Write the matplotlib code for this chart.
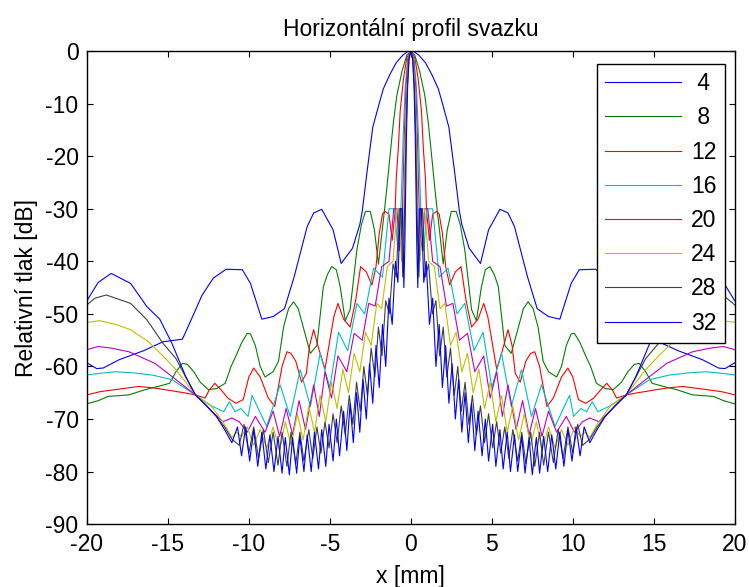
import numpy as np
import matplotlib ; matplotlib.use('Agg')
from matplotlib import pyplot as plt

plt.rcParams['font.family'] = ['Liberation Sans', 'DejaVu Sans']
plt.rcParams['axes.unicode_minus'] = False

# half profiles (x >= 0), the beam is symmetric so the x < 0 side is mirrored
x4 = [0, 0.2, 0.5, 0.9, 1.3, 1.7, 2.0, 2.35, 2.7, 3.0, 3.15, 3.6, 4.3, 4.8, 5.5, 6.0, 6.4, 7.2,
      7.8, 8.5, 9.2, 9.9, 10.4, 11.4, 12.2, 12.9, 13.4, 14.1, 15.3, 16.5, 18.0, 19.0, 19.4,
      20.0]
db4 = [0, -0.1, -0.8, -2.2, -4.5, -7.2, -10.5, -14.5, -22.9, -30.5, -33, -37.5, -40.4, -34,
       -30.1, -30.8, -33.4, -42.9, -49, -50.5, -51, -44.2, -41.6, -41.5, -43.2, -46.5, -50,
       -54.8, -55.3, -57, -58.7, -60.3, -60.4, -59.3]

x8 = [0, 0.25, 0.55, 0.86, 1.07, 1.28, 1.48, 1.6, 1.8, 2.0, 2.25, 2.5, 2.8, 3.05, 3.33, 3.75,
      4.05, 4.35, 4.6, 4.88, 5.15, 5.4, 5.8, 6.2, 6.6, 6.95, 7.24, 7.55, 7.85, 8.17, 8.5, 9.0,
      9.3, 9.6, 9.9, 10.1, 10.45, 10.8, 11.1, 11.46, 12.0, 12.5, 13.0, 13.4, 13.8, 14.1, 14.5,
      14.9, 15.6, 16.4, 17.4, 18.7, 19.3, 20.0]
db8 = [0, -0.8, -3.9, -8.4, -13.4, -19.8, -26, -29.5, -35, -40.5, -34, -30.5, -30.5, -33,
       -37.8, -49.2, -51.3, -45, -41.6, -41, -42.5, -44.8, -56, -57.5, -53, -49, -47.7, -49,
       -52.4, -59, -61, -62, -60, -56, -53.8, -53.7, -55.5, -58, -60, -63.2, -64.2, -64.4, -63,
       -61, -59.6, -59.4, -61, -63.2, -63.8, -64.4, -65.4, -65.7, -66.5, -67.1]

x12 = [0, 0.25, 0.45, 0.66, 0.76, 0.9, 0.97, 1.15, 1.35, 1.6, 1.75, 1.95, 2.15, 2.4, 2.75,
       3.1, 3.4, 3.75, 4.15, 4.5, 4.75, 5.0, 5.3, 5.65, 6.0, 6.25, 6.45, 6.75, 7.1, 7.4, 7.65,
       7.95, 8.4, 8.8, 9.3, 9.7, 10.0, 10.35, 10.8, 11.3, 11.7, 12.1, 12.45, 12.7, 13.3, 14.0,
       15.0, 15.8, 16.8, 18.25, 19.2, 20.0]
db12 = [0, -1.3, -5.2, -11.5, -17.9, -24.2, -30.5, -36, -31, -30.5, -31, -34.7, -41, -44.5,
        -42, -41, -47.3, -52.5, -51, -48, -50.5, -55, -60.5, -57, -53, -56, -61.3, -63, -59,
        -57.5, -57.2, -60, -67.6, -66, -62, -60.3, -62, -66.3, -67, -66, -64.5, -63.2, -64.5,
        -66, -65.4, -65, -64.5, -64.1, -63.8, -64.4, -64.8, -65.4]

x16 = [0, 0.2, 0.35, 0.47, 0.57, 0.64, 0.8, 1.0, 1.35, 1.75, 2.3, 2.85, 3.33, 3.9, 4.46, 5.0,
       5.6, 6.2, 6.83, 7.45, 8.07, 8.9, 9.8, 10.05, 10.5, 10.85, 11.2, 11.55, 12.3, 13.3,
       14.75, 16.0, 17.2, 18.25, 19.2, 20.0]
db16 = [0, -1.5, -7, -16, -26, -33, -38, -30, -30, -43, -41.3, -50, -48, -57, -53.5, -64,
        -57.5, -67.6, -60.6, -69.5, -63.5, -71.4, -65.5, -69.5, -68, -68.6, -66.7, -68.6,
        -67.5, -65.4, -62.5, -61.6, -61.2, -61, -61.3, -61.6]

x20 = [0, 0.17, 0.3, 0.4, 0.48, 0.55, 0.72, 0.85, 1.05, 1.35, 1.8, 2.2, 2.6, 3.0, 3.5, 3.95,
       4.5, 4.9, 5.3, 5.65, 6.0, 6.5, 6.9, 7.3, 7.7, 8.1, 8.5, 9.0, 9.6, 10.1, 10.6, 11.05,
       11.6, 12.3, 13.3, 14.5, 15.8, 17.4, 18.5, 19.3, 20.0]
db20 = [0, -1.5, -7, -16, -26, -34, -38, -30, -30, -40, -41, -48.5, -48, -55, -53.7, -61, -58,
        -66, -61, -69.5, -63.5, -72, -66.5, -73, -68, -73.3, -68.5, -72.5, -69.5, -72.5, -70.5,
        -69.8, -70.5, -68.5, -65.4, -62.5, -59.4, -57.2, -56.5, -56.2, -56.8]

x24 = [0, 0.14, 0.25, 0.34, 0.41, 0.47, 0.58, 0.7, 0.85, 1.1, 1.45, 1.8, 2.1, 2.45, 2.8, 3.15,
       3.5, 3.85, 4.2, 4.55, 4.9, 5.25, 5.6, 5.95, 6.3, 6.65, 7.0, 7.4, 7.75, 8.1, 8.5, 8.9,
       9.3, 9.7, 10.1, 10.45, 10.75, 11.05, 11.5, 12.3, 13.3, 14.5, 15.3, 16.2, 17.3, 18.2,
       19.2, 20.0]
db24 = [0, -1.5, -7, -16, -26, -35, -40, -30, -30, -40, -41, -49, -48, -56, -53.5, -61, -57.5,
        -65, -60.5, -68, -63, -70.5, -65.5, -72.5, -67.5, -74, -69, -75, -70.5, -76, -71.5,
        -75.5, -72, -75, -71.5, -73.3, -72.5, -73.5, -71, -67.6, -65.4, -60.6, -58, -55.3, -53,
        -52, -51.3, -51.6]

x28 = [0, 0.12, 0.22, 0.3, 0.36, 0.42, 0.5, 0.6, 0.72, 0.9, 1.1, 1.33, 1.55, 1.78, 2.0, 2.22,
       2.45, 2.68, 2.9, 3.12, 3.35, 3.58, 3.8, 4.05, 4.3, 4.55, 4.8, 5.05, 5.3, 5.55, 5.8,
       6.05, 6.3, 6.6, 6.85, 7.1, 7.4, 7.65, 7.95, 8.2, 8.5, 8.8, 9.1, 9.4, 9.7, 10.0, 10.3,
       10.6, 11.05, 11.5, 12.0, 12.6, 13.3, 13.9, 14.5, 15.3, 16.3, 17.3, 18.8, 19.5, 20.0]
db28 = [0, -1.5, -7, -16, -26, -36, -43, -30, -30, -43, -40.5, -50, -47.5, -58, -52.5, -62,
        -56.5, -65.5, -60, -68.5, -63, -71, -65.5, -73, -67.5, -74.5, -69, -75.5, -70.5, -76.5,
        -71.5, -77.5, -72, -78, -72.5, -78.5, -72.5, -79, -72.5, -78.8, -72.5, -78.3, -72,
        -77.5, -71.5, -76.5, -71, -75, -73.8, -71.5, -69.5, -67.5, -65.4, -62, -58.5, -55.6,
        -51.1, -48, -46.4, -47, -48.3]

x32 = [0, 0.11, 0.2, 0.27, 0.32, 0.37, 0.43, 0.52, 0.65, 0.8, 0.95, 1.15, 1.35, 1.55, 1.75,
       1.95, 2.15, 2.35, 2.55, 2.75, 2.95, 3.15, 3.35, 3.55, 3.75, 3.95, 4.15, 4.4, 4.6, 4.8,
       5.05, 5.25, 5.5, 5.7, 5.95, 6.15, 6.4, 6.6, 6.85, 7.05, 7.3, 7.5, 7.75, 7.95, 8.2, 8.45,
       8.7, 8.95, 9.2, 9.45, 9.7, 9.95, 10.2, 10.45, 10.7, 11.05, 11.5, 12.0, 12.6, 13.3, 13.9,
       14.75, 15.5, 16.3, 17.3, 18.5, 19.3, 20.0]
db32 = [0, -1.5, -7, -16, -26, -37, -45, -30, -30, -44, -40, -52, -47, -60, -52, -64, -56,
        -67, -59.5, -70, -62.5, -72.5, -65, -74.5, -67, -76, -68.5, -77, -70, -78, -71, -79,
        -72, -79.5, -72.5, -80, -73, -80, -73.3, -80.3, -73.5, -80.6, -73.5, -80.3, -73.3, -80,
        -73, -79.5, -72.5, -79, -72, -78, -71.5, -77, -71.5, -74.5, -72, -69.5, -67.5, -65.4,
        -61.9, -55.6, -51, -48.6, -44.2, -42.3, -44, -47.5]

profiles = [(x4, db4), (x8, db8), (x12, db12), (x16, db16),
            (x20, db20), (x24, db24), (x28, db28), (x32, db32)]
labels = [' 4', ' 8', '12', '16', '20', '24', '28', '32']
colors = ['#0000ff', '#008000', '#ff0000', '#00bfbf',
          '#bf00bf', '#bfbf00', '#404040', '#0000ff']

fs = 16.5

fig = plt.figure(figsize=(7.49, 5.87), dpi=100)
ax = fig.add_axes([0.116, 0.107, 0.865, 0.806])

for (xh, dh), lab, c in zip(profiles, labels, colors):
    xh = np.array(xh)
    dh = np.array(dh)
    x = np.concatenate([-xh[::-1], xh[1:]])
    d = np.concatenate([dh[::-1], dh[1:]])
    ax.plot(x, d, color=c, lw=0.8, label=lab)

ax.set_xlim(-20, 20)
ax.set_ylim(-90, 0)
ax.set_xticks(np.arange(-20, 21, 5))
ax.set_yticks(np.arange(-90, 1, 10))
ax.tick_params(direction='in', length=4, width=0.8, labelsize=fs,
               top=True, right=True, pad=6)
for s in ax.spines.values():
    s.set_linewidth(1.0)

ax.set_xlabel('x [mm]', fontsize=fs, labelpad=7)
ax.set_ylabel('Relativní tlak [dB]', fontsize=fs, labelpad=5)
ax.set_title('Horizontální profil svazku', fontsize=fs, pad=11)

leg = ax.legend(loc='upper right', bbox_to_anchor=(0.9846, 0.9725), borderaxespad=0,
                fontsize=fs, handlelength=3.3, handletextpad=0.45, labelspacing=0.49,
                borderpad=0.35, fancybox=False, framealpha=1, edgecolor='black')
leg.get_frame().set_linewidth(1.0)

plt.savefig('out.png', dpi=100)
